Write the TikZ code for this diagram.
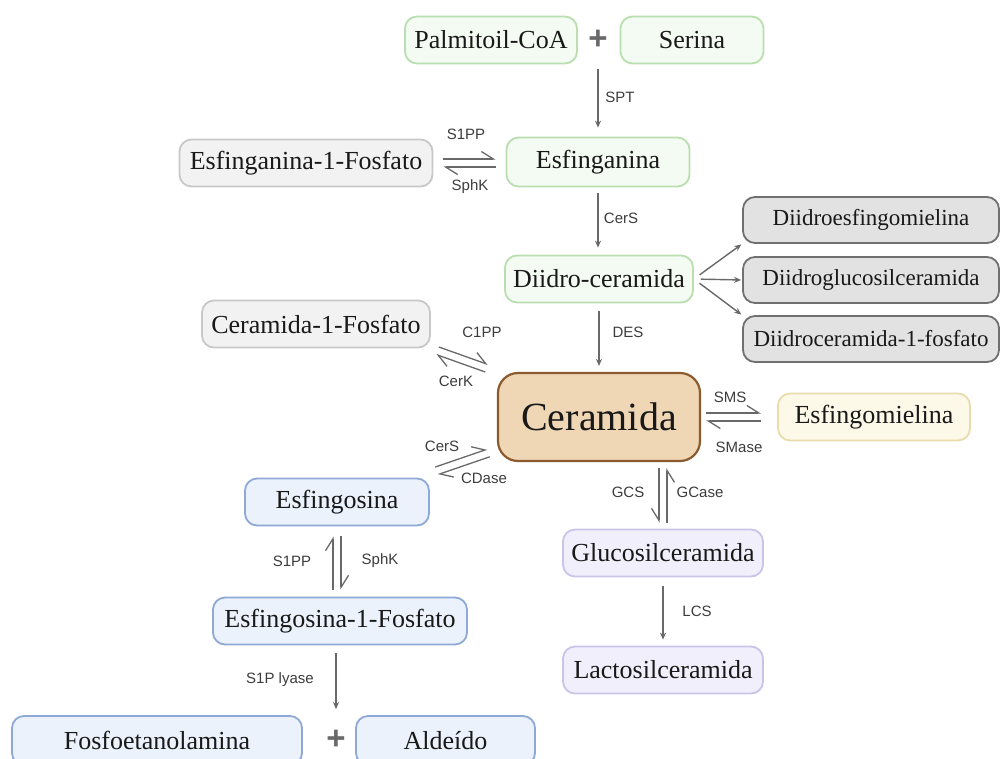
\documentclass[tikz,border=0pt]{standalone}
\usepackage{fontspec}
\setmainfont{Liberation Serif}
\newfontfamily\enzfont{Liberation Sans}
\usetikzlibrary{calc,arrows.meta}
\definecolor{pathGreen}{RGB}{185,222,176}
\definecolor{pathGreenFill}{RGB}{244,251,242}
\definecolor{pathGray}{RGB}{200,200,200}
\definecolor{pathGrayFill}{RGB}{242,242,242}
\definecolor{pathDark}{RGB}{112,112,112}
\definecolor{pathDarkFill}{RGB}{226,226,226}
\definecolor{cerBrown}{RGB}{139,90,46}
\definecolor{cerFill}{RGB}{239,214,180}
\definecolor{smYellow}{RGB}{232,220,172}
\definecolor{smFill}{RGB}{253,249,232}
\definecolor{glcViolet}{RGB}{203,195,234}
\definecolor{glcFill}{RGB}{241,239,251}
\definecolor{sphBlue}{RGB}{143,169,214}
\definecolor{sphFill}{RGB}{235,242,252}
\definecolor{arrowGray}{RGB}{105,105,105}
\definecolor{enzGray}{RGB}{60,60,60}
\newcommand{\RevPair}[7]{%
  \draw[#7,shorten <=#3,shorten >=#4] ($(#1)!4pt!#5:(#2)$) -- ($(#2)!4pt!#6:(#1)$);
  \draw[#7,shorten <=#4,shorten >=#3] ($(#2)!4pt!#5:(#1)$) -- ($(#1)!4pt!#6:(#2)$);}

\begin{document}
\begin{tikzpicture}[x=1pt,y=-1pt,
  box/.style={rounded corners=12pt,line width=1.8pt,minimum height=47pt,inner sep=0pt,
    font=\fontsize{26}{30}\selectfont,text=black!90},
  greenbox/.style={box,draw=pathGreen,fill=pathGreenFill},
  graybox/.style={box,draw=pathGray,fill=pathGrayFill},
  darkbox/.style={box,draw=pathDark,fill=pathDarkFill,minimum width=256pt,minimum height=46pt,
    font=\fontsize{23}{27}\selectfont},
  cerbox/.style={box,rounded corners=20pt,line width=2.2pt,draw=cerBrown,fill=cerFill,
    minimum width=202pt,minimum height=88pt,font=\fontsize{40}{46}\selectfont},
  yellowbox/.style={box,draw=smYellow,fill=smFill,minimum width=192pt},
  violetbox/.style={box,draw=glcViolet,fill=glcFill,minimum width=200pt},
  bluebox/.style={box,draw=sphBlue,fill=sphFill},
  plus/.style={font=\enzfont\bfseries\fontsize{33}{33}\selectfont,text=arrowGray,inner sep=0pt},
  enz/.style={font=\enzfont\fontsize{15}{18}\selectfont,text=enzGray,inner sep=1pt},
  fwd/.style={draw=arrowGray,line width=1.4pt,-{Stealth[length=7pt,width=6pt]}},
  harp/.style={draw=arrowGray,line width=1.3pt,-{Straight Barb[harpoon,length=12pt,width=15pt]}},
  harpR/.style={draw=arrowGray,line width=1.3pt,-{Straight Barb[harpoon,swap,length=12pt,width=15pt]}}]
\useasboundingbox (0,0) rectangle (1000,758);
\clip (0,0) rectangle (1000,758);

\node[greenbox,minimum width=172pt] (pal) at (491,40) {Palmitoil-CoA};
\node[plus] (plusA) at (598,40) {+};
\node[greenbox,minimum width=143pt] (ser) at (692,40) {Serina};
\node[greenbox,minimum width=183pt,minimum height=49pt] (esf) at (598,162) {Esfinganina};
\node[graybox,minimum width=253pt] (e1f) at (306,163) {Esfinganina-1-Fosfato};
\node[greenbox,minimum width=188pt] (did) at (599,279) {Diidro-ceramida};
\node[darkbox] (dsm) at (871,220) {Diidroesfingomielina};
\node[darkbox] (dgc) at (871,280) {Diidroglucosilceramida};
\node[darkbox] (dcp) at (871,339) {Diidroceramida-1-fosfato};
\node[graybox,minimum width=228pt] (c1f) at (316,324) {Ceramida-1-Fosfato};
\node[cerbox] (cer) at (599,417) {Ceramida};
\node[yellowbox] (esm) at (874,417) {Esfingomielina};
\node[violetbox] (glc) at (663,553) {Glucosilceramida};
\node[violetbox] (lac) at (663,670) {Lactosilceramida};
\node[bluebox,minimum width=184pt] (esg) at (337,502) {Esfingosina};
\node[bluebox,minimum width=254pt] (esp) at (340,621) {Esfingosina-1-Fosfato};
\node[bluebox,minimum width=290pt,minimum height=49pt] (fos) at (157,740.5) {Fosfoetanolamina};
\node[plus] (plusB) at (336,740) {+};
\node[bluebox,minimum width=179pt,minimum height=49pt] (ald) at (445.5,740.5) {Aldeído};

\node[enz] (sptL) at (620,97) {SPT};
\node[enz] (s1ppA) at (466,134) {S1PP};
\node[enz] (sphkA) at (470,187) {SphK};
\node[enz] (cersA) at (621,218) {CerS};
\node[enz] (desL) at (628,332) {DES};
\node[enz] (c1ppL) at (482,332) {C1PP};
\node[enz] (cerkL) at (456,381) {CerK};
\node[enz] (smsL) at (730,397) {SMS};
\node[enz] (smaseL) at (739,447) {SMase};
\node[enz] (cersB) at (442,446) {CerS};
\node[enz] (cdaseL) at (484,478) {CDase};
\node[enz] (gcsL) at (628,492) {GCS};
\node[enz] (gcaseL) at (700,492) {GCase};
\node[enz] (s1ppB) at (292,561) {S1PP};
\node[enz] (sphkB) at (380,561) {SphK};
\node[enz] (lcsL) at (697,611) {LCS};
\node[enz] (lyaseL) at (280,680) {S1P lyase};

\draw[fwd,shorten <=5pt,shorten >=9pt] (plusA |- pal.south) -- (esf.north);
\draw[fwd,shorten <=6pt,shorten >=7pt] (esf.south) -- (esf.south |- did.north);
\draw[fwd,shorten <=8pt,shorten >=6pt] (did.south) -- (cer.north);
\draw[fwd,shorten <=7pt,shorten >=1pt] (did.east) -- (dsm.south west);
\draw[fwd,shorten <=7pt,shorten >=1pt] (did.east) -- (dgc.west);
\draw[fwd,shorten <=7pt,shorten >=1pt] (did.east) -- (dcp.north west);
\draw[fwd,shorten <=9pt,shorten >=6pt] (glc.south) -- (lac.north);
\draw[fwd,shorten <=8pt,shorten >=6pt] (plusB |- esp.south) -- (plusB |- fos.north);

\coordinate (cdsA) at ([yshift=4.5pt]esg.north east);
\coordinate (cdsB) at ([yshift=12pt]cer.south west);
\RevPair{e1f.east}{e1f.east -| esf.west}{10pt}{10pt}{90}{-90}{harp}
\RevPair{c1f.south east}{cer.north west}{7pt}{11pt}{90}{-90}{harp}
\RevPair{cer.east}{esm.west}{5pt}{16pt}{90}{-90}{harp}
\RevPair{cdsA}{cdsB}{7pt}{9pt}{90}{-90}{harp}
\RevPair{esg.south}{esg.south |- esp.north}{10pt}{7pt}{90}{-90}{harp}
\RevPair{glc.north |- cer.south}{glc.north}{6pt}{6pt}{-90}{90}{harpR}
\end{tikzpicture}
\end{document}
